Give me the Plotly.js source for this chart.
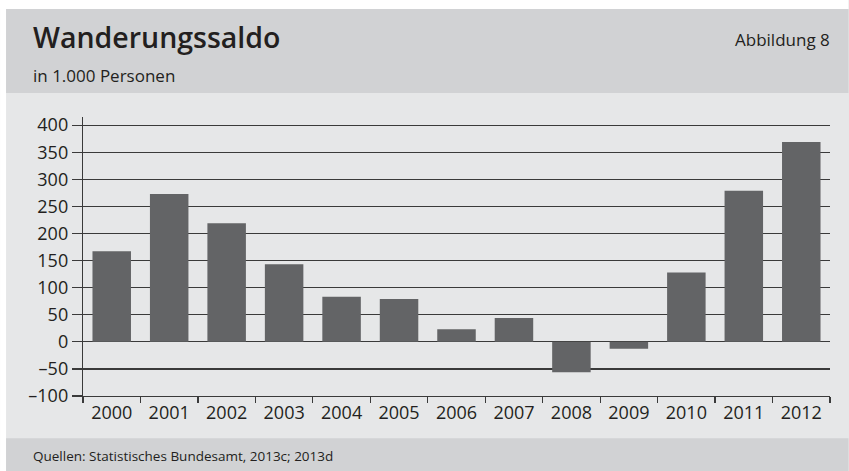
<!DOCTYPE html>
<html>
<head>
<meta charset="utf-8">
<script src="https://cdn.plot.ly/plotly-3.0.1.min.js"></script>
<style>
  html, body { margin: 0; padding: 0; background: #ffffff; }
  #chart { width: 849px; height: 471px; }
</style>
</head>
<body>
<div id="chart"></div>
<script>
// ---- data ----
const years = ["2000","2001","2002","2003","2004","2005","2006","2007","2008","2009","2010","2011","2012"];
const saldo = [167, 273, 219, 143, 83, 79, 23, 44, -56, -13, 128, 279, 369];
const yTickVals = [-100, -50, 0, 50, 100, 150, 200, 250, 300, 350, 400];
const yTickLabels = ["–100", "–50", "0", "50", "100", "150", "200", "250", "300", "350", "400"];
const titleText = "Wanderungssaldo";
const subtitleText = "in 1.000 Personen";
const figureText = "Abbildung 8";
const sourceText = "Quellen: Statistisches Bundesamt, 2013c; 2013d";

// ---- layout geometry (pixels) ----
const W = 849, Hh = 471;
const mL = 83, mR = 18.5, mT = 117, mB = 75.3;
const plotW = W - mL - mR, plotH = Hh - mT - mB;
const px = x => (x - mL) / plotW;
const py = y => (Hh - mB - y) / plotH;

const FONT = "Open Sans, Liberation Sans, sans-serif";
const textCol = "#231f20";
const gridCol = "#3a3a3a";

const trace = {
  type: "bar",
  x: years,
  y: saldo,
  marker: { color: "#636466", line: { width: 0 } },
  hoverinfo: "x+y"
};

const layout = {
  width: W, height: Hh,
  margin: { l: mL, r: mR, t: mT, b: mB, pad: 0 },
  paper_bgcolor: "#e6e7e8",
  plot_bgcolor: "rgba(0,0,0,0)",
  bargap: 0.33,
  showlegend: false,
  font: { family: FONT, color: textCol, size: 18 },
  xaxis: {
    type: "category",
    range: [-0.5, 12.5],
    showgrid: false,
    showline: true, linecolor: gridCol, linewidth: 1.2,
    ticks: "outside", tickson: "boundaries", ticklen: 6, tickwidth: 1.2, tickcolor: gridCol,
    tickfont: { family: FONT, size: 18, color: textCol },
    zeroline: false,
    fixedrange: true
  },
  yaxis: {
    range: [-100, 415],
    tickvals: yTickVals,
    ticktext: yTickLabels,
    showgrid: true, gridcolor: gridCol, gridwidth: 1.2,
    zeroline: true, zerolinecolor: gridCol, zerolinewidth: 1.2,
    showline: true, linecolor: gridCol, linewidth: 1.2,
    ticks: "outside", ticklen: 10, tickwidth: 1.2, tickcolor: gridCol,
    tickfont: { family: FONT, size: 18, color: textCol },
    fixedrange: true
  },
  shapes: [
    { type: "rect", xref: "paper", yref: "paper", x0: px(0), x1: px(W), y0: py(0), y1: py(9), fillcolor: "#ffffff", line: { width: 0 }, layer: "below" },
    { type: "rect", xref: "paper", yref: "paper", x0: px(0), x1: px(6), y0: py(0), y1: py(Hh), fillcolor: "#ffffff", line: { width: 0 }, layer: "below" },
    { type: "rect", xref: "paper", yref: "paper", x0: px(6), x1: px(W), y0: py(9), y1: py(93), fillcolor: "#d1d2d4", line: { width: 0 }, layer: "below" },
    { type: "rect", xref: "paper", yref: "paper", x0: px(6), x1: px(W), y0: py(438), y1: py(Hh), fillcolor: "#d1d2d4", line: { width: 0 }, layer: "below" }
  ],
  annotations: [
    { text: titleText, xref: "paper", yref: "paper", x: px(31), y: py(37), xanchor: "left", yanchor: "middle", showarrow: false,
      font: { family: FONT, size: 28.5, weight: 600, color: textCol } },
    { text: subtitleText, xref: "paper", yref: "paper", x: px(31), y: py(76), xanchor: "left", yanchor: "middle", showarrow: false,
      font: { family: FONT, size: 17, color: textCol } },
    { text: figureText, xref: "paper", yref: "paper", x: px(833), y: py(40), xanchor: "right", yanchor: "middle", showarrow: false,
      font: { family: FONT, size: 17, color: textCol } },
    { text: sourceText, xref: "paper", yref: "paper", x: px(31), y: py(456), xanchor: "left", yanchor: "middle", showarrow: false,
      font: { family: FONT, size: 13.5, color: textCol } }
  ]
};

Plotly.newPlot("chart", [trace], layout, { displayModeBar: false, staticPlot: true });
</script>
</body>
</html>
